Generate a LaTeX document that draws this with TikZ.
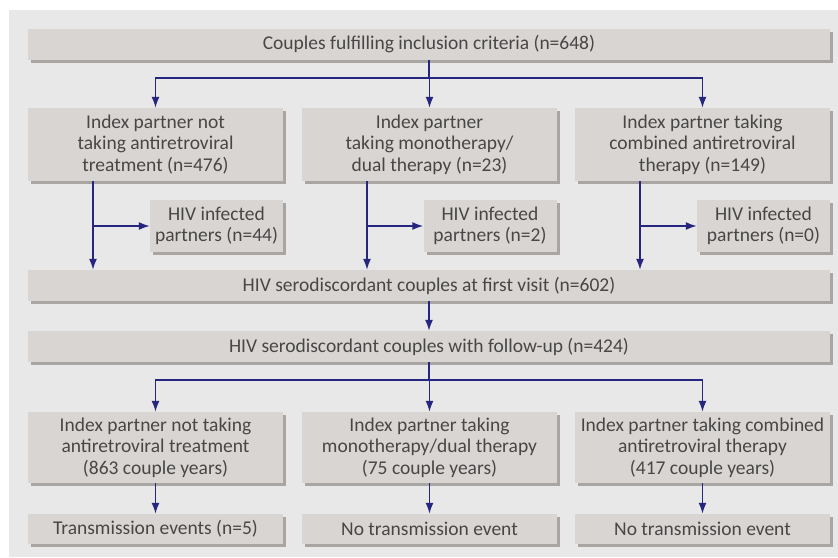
\documentclass[tikz,border=0pt]{standalone}
\usepackage{fontspec}
\setmainfont{Carlito}
\usetikzlibrary{arrows.meta,shadows}
\definecolor{bgc}{HTML}{E8E8E8}
\definecolor{boxc}{HTML}{D9D5D2}
\definecolor{shc}{HTML}{A9A5A3}
\definecolor{txc}{HTML}{474747}
\definecolor{arc}{HTML}{262680}
\tikzset{
  box/.style={fill=boxc, text=txc, align=center, inner sep=0pt,
    font=\fontsize{19.5}{21.3}\selectfont,
    drop shadow={shadow xshift=3pt, shadow yshift=-3pt, fill=shc, opacity=1}},
  wide/.style={box, minimum width=802pt, minimum height=31pt},
  col/.style={box, minimum width=255pt, minimum height=73pt},
  inf/.style={box, minimum width=133pt, minimum height=52pt},
  res/.style={box, minimum width=255pt, minimum height=30pt},
  arr/.style={draw=arc, line width=1.6pt, -{Latex[length=11pt,width=8pt]}},
  ln/.style={draw=arc, line width=1.6pt}
}
\begin{document}
\begin{tikzpicture}[x=1pt,y=-1pt]
\useasboundingbox (0,0) rectangle (838,557);
\fill[white] (0,0) rectangle (838,557);
\fill[bgc] (9,10) rectangle (838,557);

\node[wide] (top) at (429,44.5) {Couples fulfilling inclusion criteria (n=648)};
\node[col] (r1a) at (155.5,144.5) {Index partner not\\taking antiretroviral\\treatment (n=476)};
\node[col] (r1b) at (429.5,144.5) {Index partner\\taking monotherapy/\\dual therapy (n=23)};
\node[col] (r1c) at (702.5,144.5) {Index partner taking\\combined antiretroviral\\therapy (n=149)};
\node[inf] (ia) at (216.5,226) {HIV infected\\partners (n=44)};
\node[inf] (ib) at (490,226) {HIV infected\\partners (n=2)};
\node[inf] (ic) at (763.5,226) {HIV infected\\partners (n=0)};
\node[wide] (fv) at (429,285.5) {HIV serodiscordant couples at first visit (n=602)};
\node[wide] (fu) at (429,346.5) {HIV serodiscordant couples with follow-up (n=424)};
\node[col, minimum height=71pt] (r3a) at (155.5,447.5) {Index partner not taking\\antiretroviral treatment\\(863 couple years)};
\node[col, minimum height=71pt] (r3b) at (429.5,447.5) {Index partner taking\\monotherapy/dual therapy\\(75 couple years)};
\node[col, minimum height=71pt] (r3c) at (702.5,447.5) {Index partner taking combined\\antiretroviral therapy\\(417 couple years)};
\node[res] (r4a) at (155.5,529) {Transmission events (n=5)};
\node[res] (r4b) at (429.5,529) {No transmission event};
\node[res] (r4c) at (702.5,529) {No transmission event};

% top split
\coordinate (j1) at (429,78);
\draw[ln] (top.south) -- (j1);
\draw[arr] (j1) -| (r1a.north);
\draw[arr] (j1) -- (j1 -| r1b.north) -- (r1b.north);
\draw[arr] (j1) -| (r1c.north);

% side branches
\foreach \s/\i in {r1a/ia, r1b/ib, r1c/ic}{
  \draw[arr] ([xshift=-62.5pt]\s.south) -- ([xshift=-62.5pt]\s.south |- fv.north);
  \draw[arr] ([xshift=-62.5pt]\s.south |- \i.west) -- (\i.west);
}

\draw[arr] (fv.south) -- (fu.north);

% second split
\coordinate (j2) at (429,380);
\draw[ln] (fu.south) -- (j2);
\draw[arr] (j2) -| (r3a.north);
\draw[arr] (j2) -- (j2 -| r3b.north) -- (r3b.north);
\draw[arr] (j2) -| (r3c.north);

\draw[arr] (r3a) -- (r4a);
\draw[arr] (r3b) -- (r4b);
\draw[arr] (r3c) -- (r4c);
\end{tikzpicture}
\end{document}
